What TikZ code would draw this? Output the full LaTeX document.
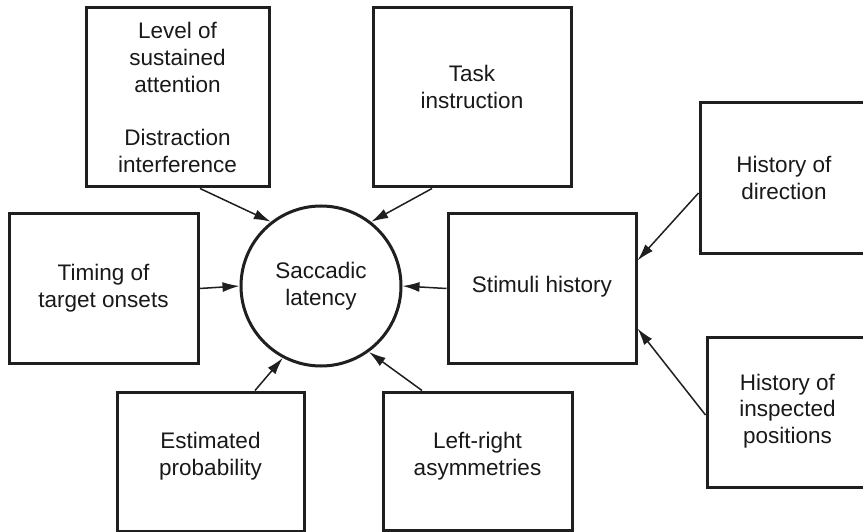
\documentclass[tikz,border=0pt]{standalone}
\usepackage{fontspec}
\setmainfont{Liberation Sans}
\usetikzlibrary{arrows.meta}
\begin{document}
\begin{tikzpicture}[x=1pt,y=-1pt,
  box/.style={draw=black!88,line width=3pt,rectangle,inner sep=0pt},
  lbl/.style={align=center,font=\fontsize{22.5}{26.7}\selectfont,text=black!90,inner sep=0pt},
  arr/.style={draw=black!88,line width=1.5pt,-{Latex[length=17pt,width=10pt]}}]
\useasboundingbox (0,0) rectangle (863,532);
\clip (0,0) rectangle (863,532);
\fill[white] (0,0) rectangle (863,532);
% boxes
\node[box,minimum width=183pt,minimum height=179pt] (tl) at (177.5,97.5) {};
\node[box,minimum width=198pt,minimum height=179pt] (task) at (472,97.5) {};
\node[box,minimum width=168pt,minimum height=150pt] (hd) at (784,178) {};
\node[box,minimum width=189pt,minimum height=149pt] (tim) at (103.5,288.5) {};
\node[box,minimum width=188pt,minimum height=149pt] (sh) at (542,288.5) {};
\node[box,minimum width=161pt,minimum height=150pt] (hi) at (787.5,412) {};
\node[box,minimum width=187pt,minimum height=139pt] (est) at (210.5,461.5) {};
\node[box,minimum width=189pt,minimum height=138pt] (lr) at (477.5,461) {};
\node[draw=black!88,line width=3pt,circle,minimum size=160pt,inner sep=0pt] (lat) at (321,286) {};
% texts
\node[lbl] (tlt) at (177.5,97.5) {Level of\\sustained\\attention\\[26.7pt]Distraction\\interference};
\node[lbl] (taskt) at (472,87) {Task\\instruction};
\node[lbl] (hdt) at (784,178) {History of\\direction};
\node[lbl] (timt) at (103.5,288) {Timing of\\target onsets};
\node[lbl] (sht) at (542,287) {Stimuli history};
\node[lbl] (hit) at (787.5,411) {History of\\inspected\\positions};
\node[lbl] (estt) at (210.5,456) {Estimated\\probability};
\node[lbl] (lrt) at (477.5,456) {Left-right\\asymmetries};
\node[lbl] (latt) at (321,286) {Saccadic\\latency};
% connectors
\draw[arr] ([xshift=22.5pt]tl.south) -- (lat.128);
\draw[arr] ([xshift=-40pt]task.south) -- (lat.52);
\draw[arr] (tim.east) -- (lat.west);
\draw[arr] (sh.west) -- (lat.east);
\draw[arr] ([xshift=44.5pt]est.north) -- (lat.242);
\draw[arr] ([xshift=-55.5pt]lr.north) -- (lat.306);
\draw[arr] ([yshift=-15pt]hd.west) -- ([yshift=28pt]sh.east);
\draw[arr] ([yshift=-3pt]hi.west) -- ([yshift=-40pt]sh.east);
\end{tikzpicture}
\end{document}
